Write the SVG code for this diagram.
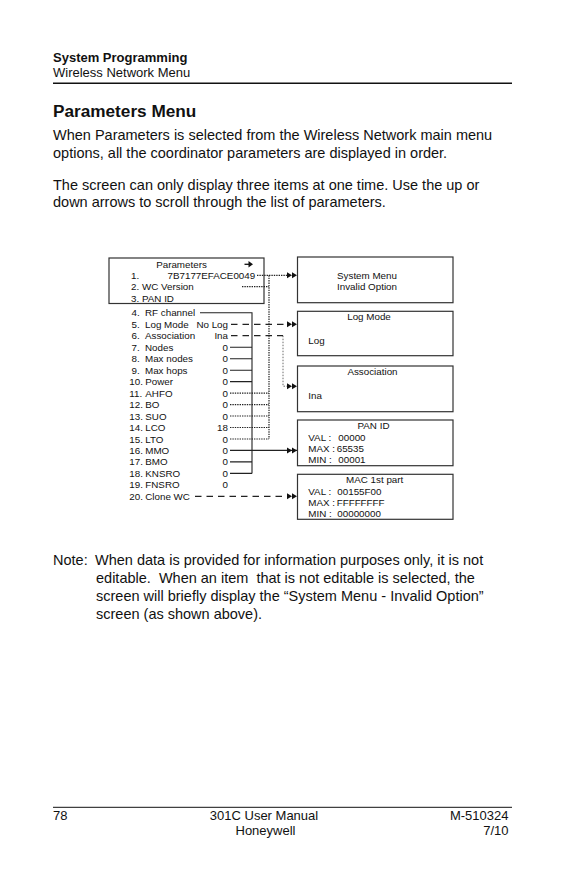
<svg xmlns="http://www.w3.org/2000/svg" width="577" height="892" viewBox="0 0 577 892">
<style>
  text { font-family: "Liberation Sans", Arial, Helvetica, sans-serif; fill: #111; }
  .d { font-size: 9.8px; }
  .dc { font-size: 9.8px; text-anchor: middle; }
  .v { font-size: 9.8px; text-anchor: end; }
  .box { fill: none; stroke: #333; stroke-width: 1.2; }
  .solid { fill: none; stroke: #222; stroke-width: 1.1; }
  .dash { fill: none; stroke: #222; stroke-width: 1.2; stroke-dasharray: 6.5 5; }
  .dot { fill: none; stroke: #222; stroke-width: 1.2; stroke-dasharray: 1.4 1; }
  .fdot { fill: none; stroke: #444; stroke-width: 0.8; stroke-dasharray: 1.5 1.5; }
  .body { font-size: 14.5px; }
  .foot { font-size: 13px; }
</style>
<defs>
  <marker id="dbl" markerUnits="userSpaceOnUse" markerWidth="11" markerHeight="7" refX="10" refY="3.5" orient="auto">
    <path d="M0,0.5 L5,3.5 L0,6.5 Z M5,0.5 L10,3.5 L5,6.5 Z" fill="#111"/>
  </marker>
</defs>
<rect width="577" height="892" fill="#fff"/>

<g id="page-header">
  <text x="53" y="61.5" style="font-size:13px;font-weight:bold">System Programming</text>
  <text x="53" y="77" style="font-size:13px">Wireless Network Menu</text>
  <line x1="53" y1="83.3" x2="512" y2="83.3" stroke="#111" stroke-width="1.5"/>
  <text x="53" y="116.5" style="font-size:17.2px;font-weight:bold">Parameters Menu</text>
  <text class="body" x="53" y="139.5">When Parameters is selected from the Wireless Network main menu</text>
  <text class="body" x="53" y="158">options, all the coordinator parameters are displayed in order.</text>
  <text class="body" x="53" y="190">The screen can only display three items at one time. Use the up or</text>
  <text class="body" x="53" y="207">down arrows to scroll through the list of parameters.</text>
</g>

<g id="parameters-list">
  <rect class="box" x="109" y="258" width="155" height="45.5"/>
  <text class="dc" x="181.5" y="267.8">Parameters</text>
  <path d="M244.5,264.3 H250" stroke="#111" stroke-width="1.3"/>
  <path d="M248.5,261 L253,264.3 L248.5,267.6 Z" fill="#111"/>
  <text class="d" x="131" y="278.8">1.</text><text class="d" x="167.5" y="278.8">7B7177EFACE0049</text>
  <text class="d" x="131" y="290.2">2.</text><text class="d" x="142" y="290.2">WC Version</text>
  <text class="d" x="131" y="301.5">3.</text><text class="d" x="142" y="301.5">PAN ID</text>

  <text class="d" x="131.5" y="316.3">4.</text><text class="d" x="145" y="316.3">RF channel</text>
  <text class="d" x="131.5" y="327.8">5.</text><text class="d" x="145" y="327.8">Log Mode</text><text class="v" x="228" y="327.8">No Log</text>
  <text class="d" x="131.5" y="339.2">6.</text><text class="d" x="145" y="339.2">Association</text><text class="v" x="228" y="339.2">Ina</text>
  <text class="d" x="131.5" y="350.7">7.</text><text class="d" x="145" y="350.7">Nodes</text><text class="v" x="228" y="350.7">0</text>
  <text class="d" x="131.5" y="362.2">8.</text><text class="d" x="145" y="362.2">Max nodes</text><text class="v" x="228" y="362.2">0</text>
  <text class="d" x="131.5" y="373.7">9.</text><text class="d" x="145" y="373.7">Max hops</text><text class="v" x="228" y="373.7">0</text>
  <text class="d" x="129.3" y="385.1">10.</text><text class="d" x="145.3" y="385.1">Power</text><text class="v" x="228" y="385.1">0</text>
  <text class="d" x="129.3" y="396.6">11.</text><text class="d" x="145.3" y="396.6">AHFO</text><text class="v" x="228" y="396.6">0</text>
  <text class="d" x="129.3" y="408.1">12.</text><text class="d" x="145.3" y="408.1">BO</text><text class="v" x="228" y="408.1">0</text>
  <text class="d" x="129.3" y="419.5">13.</text><text class="d" x="145.3" y="419.5">SUO</text><text class="v" x="228" y="419.5">0</text>
  <text class="d" x="129.3" y="431">14.</text><text class="d" x="145.3" y="431">LCO</text><text class="v" x="228" y="431">18</text>
  <text class="d" x="129.3" y="442.5">15.</text><text class="d" x="145.3" y="442.5">LTO</text><text class="v" x="228" y="442.5">0</text>
  <text class="d" x="129.3" y="453.9">16.</text><text class="d" x="145.3" y="453.9">MMO</text><text class="v" x="228" y="453.9">0</text>
  <text class="d" x="129.3" y="465.4">17.</text><text class="d" x="145.3" y="465.4">BMO</text><text class="v" x="228" y="465.4">0</text>
  <text class="d" x="129.3" y="476.9">18.</text><text class="d" x="145.3" y="476.9">KNSRO</text><text class="v" x="228" y="476.9">0</text>
  <text class="d" x="129.3" y="488.3">19.</text><text class="d" x="145.3" y="488.3">FNSRO</text><text class="v" x="228" y="488.3">0</text>
  <text class="d" x="129.3" y="499.8">20.</text><text class="d" x="145.3" y="499.8">Clone WC</text>
</g>

<g id="system-menu">
  <rect class="box" x="297.5" y="257" width="155.5" height="45.7"/>
  <text class="dc" x="367" y="278.8">System Menu</text>
  <text class="dc" x="367" y="290">Invalid Option</text>
</g>
<g id="log-mode">
  <rect class="box" x="297.5" y="311.3" width="155.5" height="44.4"/>
  <text class="dc" x="369" y="320">Log Mode</text>
  <text class="d" x="308.3" y="343.5">Log</text>
</g>
<g id="association">
  <rect class="box" x="297.5" y="366" width="155.5" height="45.7"/>
  <text class="dc" x="372.5" y="375.2">Association</text>
  <text class="d" x="308.3" y="399.2">Ina</text>
</g>
<g id="pan-id">
  <rect class="box" x="297.5" y="420" width="155.5" height="45.7"/>
  <text class="dc" x="373.5" y="428.5">PAN ID</text>
  <text class="d" x="308.3" y="440.5">VAL :</text><text class="d" x="338.3" y="440.5">00000</text>
  <text class="d" x="308.3" y="451.8">MAX :</text><text class="d" x="336.7" y="451.8">65535</text>
  <text class="d" x="308.3" y="462.8">MIN :</text><text class="d" x="338.3" y="462.8">00001</text>
</g>
<g id="mac-1st-part">
  <rect class="box" x="297.5" y="474.3" width="155.5" height="45"/>
  <text class="dc" x="374.7" y="482.5">MAC 1st part</text>
  <text class="d" x="308.3" y="494.5">VAL :</text><text class="d" x="337.3" y="494.5">00155F00</text>
  <text class="d" x="308.3" y="505.8">MAX :</text><text class="d" x="336.7" y="505.8">FFFFFFFF</text>
  <text class="d" x="308.3" y="516.8">MIN :</text><text class="d" x="337.3" y="516.8">00000000</text>
</g>

<g id="connectors">
  <path class="dot" d="M257,275.3 H288"/>
  <path class="solid" d="M287,275.3 H297" marker-end="url(#dbl)" stroke-opacity="0"/>
  <path class="dot" d="M242,286.7 H269"/>
  <path class="dot" d="M269,275.3 V439"/>
  <path class="dot" d="M230,393.1 H269 M230,404.6 H269 M230,416 H269 M230,427.5 H269 M230,439 H269"/>
  <path class="dash" d="M231,324.3 H287"/>
  <path class="solid" d="M287,324.3 H297" marker-end="url(#dbl)" stroke-opacity="0"/>
  <path class="dash" d="M231,335.7 H283"/>
  <path class="fdot" d="M283,335.7 V386.2 H288"/>
  <path class="solid" d="M287,386.2 H297" marker-end="url(#dbl)" stroke-opacity="0"/>
  <path class="solid" d="M200,312.8 H252 V473.4"/>
  <path class="solid" d="M230,347.2 H252 M230,358.7 H252 M230,370.2 H252 M230,381.6 H252 M230,461.9 H252 M230,473.4 H252"/>
  <path class="solid" d="M230,450.4 H297" marker-end="url(#dbl)"/>
  <path class="dash" d="M195,496.3 H287"/>
  <path class="solid" d="M287,496.3 H297" marker-end="url(#dbl)" stroke-opacity="0"/>
</g>

<g id="note">
  <text class="body" x="53" y="565">Note:</text>
  <text class="body" x="95" y="565">When data is provided for information purposes only, it is not</text>
  <text class="body" x="96" y="583" xml:space="preserve">editable.  When an item  that is not editable is selected, the</text>
  <text class="body" x="96" y="601">screen will briefly display the “System Menu - Invalid Option”</text>
  <text class="body" x="96" y="619">screen (as shown above).</text>
</g>

<g id="page-footer">
  <line x1="53" y1="807.3" x2="512" y2="807.3" stroke="#111" stroke-width="1"/>
  <text class="foot" x="53" y="819.5">78</text>
  <text class="foot" x="264" y="819.5" text-anchor="middle">301C User Manual</text>
  <text class="foot" x="265.5" y="835" text-anchor="middle">Honeywell</text>
  <text class="foot" x="508.5" y="819.5" text-anchor="end">M-510324</text>
  <text class="foot" x="508.5" y="835" text-anchor="end">7/10</text>
</g>
</svg>
